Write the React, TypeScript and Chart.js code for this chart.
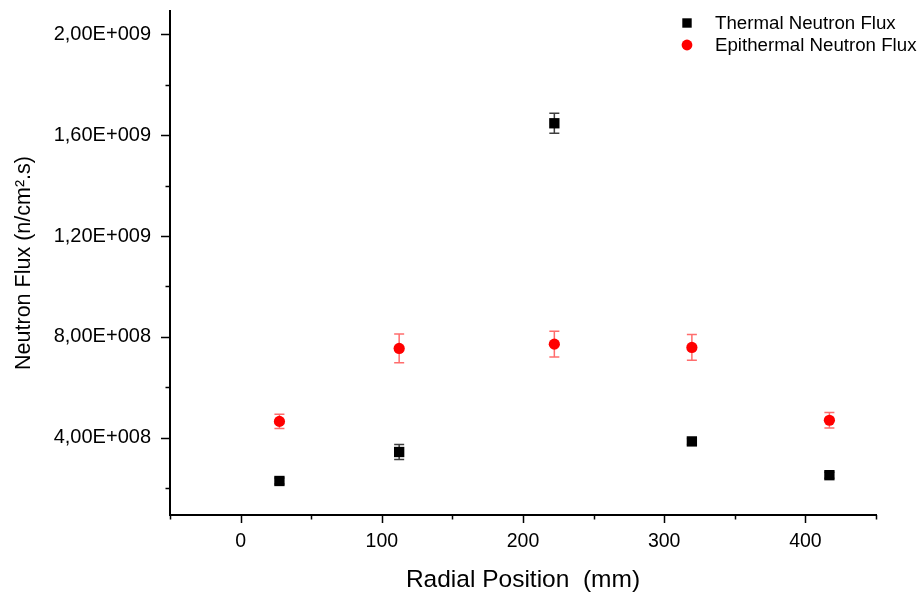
import React, { useEffect, useRef } from 'react';
import { Chart, registerables } from 'chart.js';

Chart.register(...registerables);

// ---- Data ----
const radialPositions = [27.5, 112.3, 222.2, 319.6, 417];
const thermalFlux = [2.28e8, 3.43e8, 1.6475e9, 3.85e8, 2.51e8];
const thermalErr = [1.2e7, 3.0e7, 4.0e7, 1.2e7, 1.2e7];
const epithermalFlux = [4.645e8, 7.54e8, 7.71e8, 7.58e8, 4.69e8];
const epithermalErr = [2.8e7, 5.7e7, 5.1e7, 5.1e7, 3.1e7];

const seriesNames = ['Thermal Neutron Flux', 'Epithermal Neutron Flux'];
const xMajorTicks = [0, 100, 200, 300, 400];
const xMinorTicks = [-50, 50, 150, 250, 350, 450];
const yMajorTicks = [4e8, 8e8, 1.2e9, 1.6e9, 2e9];
const yMinorTicks = [2e8, 6e8, 1e9, 1.4e9, 1.8e9];

const xAxisTitle = 'Radial Position  (mm)';
const yAxisTitle = 'Neutron Flux (n/cm\u00B2.s)';

const FONT = "'Liberation Sans', Arial, sans-serif";

function sciLabel(v: number): string {
  const [m, e] = v.toExponential(2).split('e');
  const exp = parseInt(e, 10);
  const sign = exp < 0 ? '-' : '+';
  return m.replace('.', ',') + 'E' + sign + String(Math.abs(exp)).padStart(3, '0');
}

const errorBarPlugin = {
  id: 'errorBars',
  beforeDatasetsDraw(chart: any) {
    const { ctx } = chart;
    const xs = chart.scales.x;
    const ys = chart.scales.y;
    chart.data.datasets.forEach((ds: any) => {
      const errs: number[] = ds.errorBars || [];
      ctx.save();
      ctx.strokeStyle = ds.errorColor;
      ctx.lineWidth = 1.5;
      ds.data.forEach((p: any, i: number) => {
        const e = errs[i];
        if (!e) return;
        const px = xs.getPixelForValue(p.x);
        const top = ys.getPixelForValue(p.y + e);
        const bot = ys.getPixelForValue(p.y - e);
        ctx.beginPath();
        ctx.moveTo(px, top);
        ctx.lineTo(px, bot);
        ctx.moveTo(px - 5, top);
        ctx.lineTo(px + 5, top);
        ctx.moveTo(px - 5, bot);
        ctx.lineTo(px + 5, bot);
        ctx.stroke();
      });
      ctx.restore();
    });
  },
};

const tickMarkPlugin = {
  id: 'tickMarks',
  afterDraw(chart: any) {
    const { ctx, chartArea } = chart;
    const xs = chart.scales.x;
    const ys = chart.scales.y;
    ctx.save();
    ctx.strokeStyle = '#000';
    ctx.lineWidth = 1.5;
    ctx.beginPath();
    xMajorTicks.forEach((v) => {
      const px = Math.round(xs.getPixelForValue(v)) + 0.5;
      ctx.moveTo(px, chartArea.bottom);
      ctx.lineTo(px, chartArea.bottom + 8);
    });
    xMinorTicks.forEach((v) => {
      const px = Math.round(xs.getPixelForValue(v)) + 0.5;
      ctx.moveTo(px, chartArea.bottom);
      ctx.lineTo(px, chartArea.bottom + 4.5);
    });
    yMajorTicks.forEach((v) => {
      const py = Math.round(ys.getPixelForValue(v)) + 0.5;
      ctx.moveTo(chartArea.left, py);
      ctx.lineTo(chartArea.left - 9, py);
    });
    yMinorTicks.forEach((v) => {
      const py = Math.round(ys.getPixelForValue(v)) + 0.5;
      ctx.moveTo(chartArea.left, py);
      ctx.lineTo(chartArea.left - 4.5, py);
    });
    ctx.stroke();
    ctx.restore();
  },
};

const legendPlugin = {
  id: 'customLegend',
  afterDraw(chart: any) {
    const { ctx, chartArea } = chart;
    const markerX = chartArea.right - 189;
    const textX = chartArea.right - 161;
    const rows = [chartArea.top + 12, chartArea.top + 34];
    ctx.save();
    ctx.font = `18.7px ${FONT}`;
    ctx.textBaseline = 'middle';
    ctx.textAlign = 'left';
    chart.data.datasets.forEach((ds: any, i: number) => {
      const y = rows[i];
      ctx.fillStyle = ds.backgroundColor;
      if (ds.pointStyle === 'rect') {
        ctx.fillRect(markerX - 4.7, y - 4.7, 9.4, 9.4);
      } else {
        ctx.beginPath();
        ctx.arc(markerX, y, 5.4, 0, Math.PI * 2);
        ctx.fill();
      }
      ctx.fillStyle = '#000';
      ctx.fillText(ds.label, textX, y + 1);
    });
    ctx.restore();
  },
};

export default function App() {
  const canvasRef = useRef<HTMLCanvasElement | null>(null);

  useEffect(() => {
    if (!canvasRef.current) return;
    const chart = new Chart(canvasRef.current, {
      type: 'scatter',
      data: {
        datasets: [
          {
            label: seriesNames[0],
            data: radialPositions.map((x, i) => ({ x, y: thermalFlux[i] })),
            backgroundColor: '#000000',
            borderColor: '#000000',
            pointStyle: 'rect',
            pointRadius: 7.3,
            pointHoverRadius: 7.3,
            borderWidth: 0,
            errorBars: thermalErr,
            errorColor: 'rgba(40,40,40,0.9)',
          } as any,
          {
            label: seriesNames[1],
            data: radialPositions.map((x, i) => ({ x, y: epithermalFlux[i] })),
            backgroundColor: '#ff0000',
            borderColor: '#ff0000',
            pointStyle: 'circle',
            pointRadius: 5.6,
            pointHoverRadius: 5.6,
            borderWidth: 0,
            errorBars: epithermalErr,
            errorColor: 'rgba(255,60,60,0.75)',
          } as any,
        ],
      },
      options: {
        animation: false,
        responsive: true,
        maintainAspectRatio: false,
        layout: { padding: { top: 11, right: 45, left: 0, bottom: 0 } },
        plugins: {
          legend: { display: false },
          tooltip: { enabled: false },
        },
        scales: {
          x: {
            type: 'linear',
            min: -50,
            max: 450,
            afterBuildTicks: (scale: any) => {
              scale.ticks = xMajorTicks.map((v) => ({ value: v }));
            },
            afterFit: (scale: any) => {
              scale.height = 78;
              scale.paddingLeft = 0;
              scale.paddingRight = 0;
            },
            grid: { display: false, drawTicks: false },
            border: { display: true, color: '#000', width: 2 },
            ticks: {
              color: '#000',
              font: { family: FONT, size: 19.5 },
              padding: 15,
              maxRotation: 0,
              callback: (v: any) => String(v),
            },
            title: {
              display: true,
              text: xAxisTitle,
              color: '#000',
              font: { family: FONT, size: 24.5 },
              padding: { top: 0, bottom: -2 },
            },
          },
          y: {
            type: 'linear',
            min: 9.3e7,
            max: 2.093e9,
            afterBuildTicks: (scale: any) => {
              scale.ticks = yMajorTicks.map((v) => ({ value: v }));
            },
            afterFit: (scale: any) => {
              scale.width = 170;
              scale.paddingTop = 0;
              scale.paddingBottom = 0;
            },
            grid: { display: false, drawTicks: false },
            border: { display: true, color: '#000', width: 2 },
            ticks: {
              color: '#000',
              font: { family: FONT, size: 20 },
              padding: 19,
              callback: (v: any) => sciLabel(Number(v)),
            },
            title: {
              display: true,
              text: yAxisTitle,
              color: '#000',
              font: { family: FONT, size: 21.5 },
              padding: { top: 11, bottom: 0 },
            },
          },
        },
      } as any,
      plugins: [errorBarPlugin, tickMarkPlugin, legendPlugin],
    });
    return () => chart.destroy();
  }, []);

  return (
    <div style={{ position: 'fixed', left: 0, top: 0, width: 921, height: 593, background: '#fff' }}>
      <canvas ref={canvasRef} />
    </div>
  );
}
